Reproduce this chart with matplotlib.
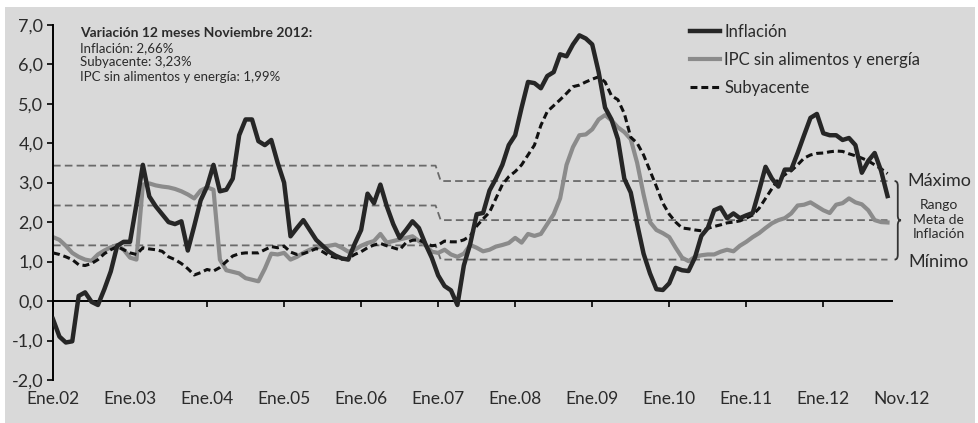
import matplotlib

matplotlib.use("Agg")
import matplotlib.pyplot as plt
import numpy as np
from matplotlib.patches import PathPatch, Rectangle
from matplotlib.path import Path

# Variacion 12 meses (%), Ene.02 .. Nov.12, one value per month
inflacion = [
    -0.46, -0.90, -1.05, -1.02, 0.13, 0.22, -0.02, -0.10, 0.30, 0.75, 1.40, 1.50,
    1.50, 2.45, 3.45, 2.65, 2.40, 2.20, 2.00, 1.95, 2.02, 1.28, 1.90, 2.55,
    2.90, 3.45, 2.78, 2.82, 3.10, 4.20, 4.60, 4.60, 4.05, 3.95, 4.08, 3.50,
    3.00, 1.64, 1.85, 2.05, 1.80, 1.55, 1.40, 1.25, 1.15, 1.08, 1.05, 1.45,
    1.80, 2.72, 2.48, 2.95, 2.40, 1.95, 1.60, 1.80, 2.02, 1.85, 1.45, 1.10,
    0.65, 0.38, 0.27, -0.10, 0.90, 1.45, 2.20, 2.23, 2.80, 3.10, 3.45, 3.95,
    4.20, 4.90, 5.55, 5.52, 5.39, 5.70, 5.80, 6.25, 6.20, 6.50, 6.73, 6.65,
    6.50, 5.80, 4.90, 4.60, 4.10, 3.10, 2.75, 1.95, 1.20, 0.70, 0.30, 0.28,
    0.45, 0.84, 0.78, 0.76, 1.10, 1.65, 1.85, 2.30, 2.37, 2.10, 2.22, 2.10,
    2.17, 2.23, 2.80, 3.40, 3.10, 2.90, 3.33, 3.33, 3.75, 4.20, 4.64, 4.74,
    4.25, 4.20, 4.20, 4.08, 4.13, 3.95, 3.25, 3.55, 3.75, 3.30, 2.66,
]
sin_alimentos = [
    1.62, 1.55, 1.40, 1.22, 1.12, 1.05, 1.02, 1.18, 1.28, 1.36, 1.42, 1.30,
    1.10, 1.05, 2.95, 2.98, 2.93, 2.90, 2.88, 2.84, 2.78, 2.70, 2.60, 2.80,
    2.88, 2.82, 1.05, 0.78, 0.74, 0.70, 0.58, 0.54, 0.50, 0.82, 1.20, 1.18,
    1.22, 1.05, 1.12, 1.22, 1.30, 1.35, 1.38, 1.40, 1.43, 1.35, 1.25, 1.30,
    1.40, 1.47, 1.52, 1.70, 1.48, 1.52, 1.56, 1.60, 1.64, 1.52, 1.42, 1.25,
    1.22, 1.30, 1.18, 1.12, 1.20, 1.42, 1.35, 1.26, 1.30, 1.38, 1.42, 1.47,
    1.60, 1.48, 1.70, 1.65, 1.70, 1.95, 2.20, 2.60, 3.45, 3.90, 4.20, 4.22,
    4.35, 4.60, 4.71, 4.58, 4.40, 4.28, 4.10, 3.50, 2.70, 2.00, 1.80, 1.72,
    1.62, 1.35, 1.10, 1.01, 1.12, 1.16, 1.18, 1.18, 1.25, 1.30, 1.26, 1.40,
    1.50, 1.62, 1.72, 1.85, 1.97, 2.05, 2.10, 2.22, 2.42, 2.44, 2.50, 2.40,
    2.30, 2.23, 2.44, 2.48, 2.60, 2.50, 2.45, 2.30, 2.05, 2.00, 1.99,
]
subyacente = [
    1.22, 1.18, 1.12, 1.05, 0.92, 0.90, 0.95, 1.05, 1.20, 1.30, 1.38, 1.30,
    1.22, 1.18, 1.35, 1.32, 1.30, 1.26, 1.12, 1.05, 0.95, 0.82, 0.66, 0.72,
    0.80, 0.76, 0.85, 1.00, 1.14, 1.20, 1.22, 1.22, 1.22, 1.30, 1.38, 1.35,
    1.39, 1.24, 1.18, 1.20, 1.26, 1.33, 1.25, 1.15, 1.10, 1.06, 1.08, 1.18,
    1.25, 1.35, 1.42, 1.46, 1.40, 1.35, 1.30, 1.48, 1.54, 1.55, 1.47, 1.40,
    1.42, 1.52, 1.50, 1.50, 1.55, 1.65, 1.90, 2.08, 2.25, 2.60, 2.95, 3.15,
    3.28, 3.45, 3.70, 3.95, 4.45, 4.80, 4.95, 5.10, 5.26, 5.43, 5.47, 5.55,
    5.62, 5.68, 5.55, 5.20, 5.10, 4.75, 4.15, 4.00, 3.70, 3.30, 2.90, 2.48,
    2.20, 2.00, 1.85, 1.83, 1.80, 1.78, 1.84, 1.89, 1.93, 1.98, 2.00, 2.03,
    2.10, 2.18, 2.35, 2.60, 2.85, 3.08, 3.20, 3.30, 3.45, 3.62, 3.70, 3.74,
    3.75, 3.78, 3.80, 3.79, 3.73, 3.68, 3.62, 3.55, 3.45, 3.35, 3.23,
]
tick_pos = [0, 12, 24, 36, 48, 60, 72, 84, 96, 108, 120]
tick_labels = ["Ene.02", "Ene.03", "Ene.04", "Ene.05", "Ene.06", "Ene.07",
               "Ene.08", "Ene.09", "Ene.10", "Ene.11", "Ene.12"]
ultimo_label = "Nov.12"
# rango meta: hasta Dic.06 / desde Ene.07 (max, centro, min)
meta_antes = [3.43, 2.42, 1.41]
meta_desde = [3.04, 2.05, 1.05]
cambio_meta = 60

W, H = 979, 423
BG = "#d9d9d9"
TXT = "#2b2b2b"
plt.rcParams["font.family"] = ["Lato", "DejaVu Sans"]
plt.rcParams["lines.scale_dashes"] = False


def fx(x):
    return x / W


def fy(y):
    return 1 - y / H


fig = plt.figure(figsize=(W / 100, H / 100), dpi=100, facecolor=BG)
# thin white frame at top/left/right like the scanned original
for rect in [(0, fy(7), 1, 1), (0, 0, fx(5), 1), (fx(975), 0, 1, 1)]:
    fig.patches.append(Rectangle(rect[:2], rect[2] - rect[0], rect[3] - rect[1],
                                 transform=fig.transFigure, facecolor="white",
                                 edgecolor="none", zorder=-5))
ax = fig.add_axes([fx(53), fy(380), fx(892 - 53), (380 - 24.7) / H])
ax.set_facecolor("none")

months = np.arange(len(inflacion))
n = len(months)

# rango meta de inflacion
xm = [0, cambio_meta - 0.4, cambio_meta + 0.4, n - 1]
for a, b in zip(meta_antes, meta_desde):
    ax.plot(xm, [a, a, b, b], color="#6a6a6a", lw=1.3, dashes=(5.5, 3), zorder=1)

l_ipc, = ax.plot(months, sin_alimentos, color="#8b8b8b", lw=3.0, zorder=2,
                 solid_joinstyle="round")
l_sub, = ax.plot(months, subyacente, color="#111111", lw=2.2, dashes=(5, 2.8),
                 zorder=3)
l_inf, = ax.plot(months, inflacion, color="#262626", lw=3.2, zorder=4,
                 solid_joinstyle="round")

ax.set_xlim(0, 130.7)
ax.set_ylim(-2, 7)
for s in ("top", "right"):
    ax.spines[s].set_visible(False)
ax.spines["left"].set_linewidth(1.4)
ax.spines["bottom"].set_position(("data", 0))
ax.spines["bottom"].set_linewidth(1.4)
ax.set_yticks(np.arange(-2, 8, 1))
ax.set_yticklabels([f"{v:.1f}".replace(".", ",") for v in np.arange(-2, 8, 1)])
ax.tick_params(axis="y", direction="out", length=4, width=1.2, pad=3,
               labelsize=13, labelcolor=TXT)
ax.set_xticks(tick_pos)
ax.tick_params(axis="x", direction="out", length=4, width=1.2, labelbottom=False)

sec = ax.secondary_xaxis(0)
sec.set_xticks(tick_pos, tick_labels)
sec.spines["bottom"].set_visible(False)
sec.tick_params(length=0, pad=8, labelsize=12.5, labelcolor=TXT)
ax.annotate(ultimo_label, xy=(n - 1, 0), xycoords=("data", "axes fraction"),
            xytext=(10, -8), textcoords="offset points", ha="center", va="top",
            fontsize=12.5, color=TXT, annotation_clip=False)

# recuadro de variacion
fig.text(fx(80), fy(33), "Variación 12 meses Noviembre 2012:", fontsize=10,
         fontweight="bold", color=TXT, va="center")
for yy, s in [(48, f"Inflación: {inflacion[-1]:.2f}%"),
              (62, f"Subyacente: {subyacente[-1]:.2f}%"),
              (77, f"IPC sin alimentos y energía: {sin_alimentos[-1]:.2f}%")]:
    fig.text(fx(80), fy(yy), s.replace(".", ","), fontsize=9.5, color=TXT,
             va="center")

fig.legend([l_inf, l_ipc, l_sub],
           ["Inflación", "IPC sin alimentos y energía", "Subyacente"],
           loc="upper left", bbox_to_anchor=(fx(690), fy(24)), frameon=False,
           fontsize=12, handlelength=1.8, handletextpad=0.25, labelspacing=0.72,
           borderpad=0, borderaxespad=0, labelcolor=TXT)

# llave del rango meta
hi, lo = meta_desde[0], meta_desde[2]
mid = (hi + lo) / 2
bx, w, r = n - 1 + 1.6, 0.5, 0.12
verts = [(bx - w, hi), (bx, hi), (bx, hi - r), (bx, mid + r), (bx, mid),
         (bx + w, mid), (bx, mid), (bx, mid - r), (bx, lo + r), (bx, lo),
         (bx - w, lo)]
codes = [Path.MOVETO, Path.CURVE3, Path.CURVE3, Path.LINETO, Path.CURVE3,
         Path.CURVE3, Path.CURVE3, Path.CURVE3, Path.LINETO, Path.CURVE3,
         Path.CURVE3]
ax.add_patch(PathPatch(Path(verts, codes), fill=False, edgecolor="#333333",
                       lw=1.3, clip_on=False))

xl = n - 1 + 8
ax.text(xl, hi, "Máximo", ha="center", va="center", fontsize=13, color=TXT,
        clip_on=False)
ax.text(xl, mid + 0.02, "Rango\nMeta de\nInflación", ha="center", va="center",
        fontsize=10, color=TXT, linespacing=1.25, clip_on=False)
ax.text(xl, lo - 0.05, "Mínimo", ha="center", va="center", fontsize=13,
        color=TXT, clip_on=False)

fig.savefig("out.png", dpi=100, facecolor=fig.get_facecolor())
